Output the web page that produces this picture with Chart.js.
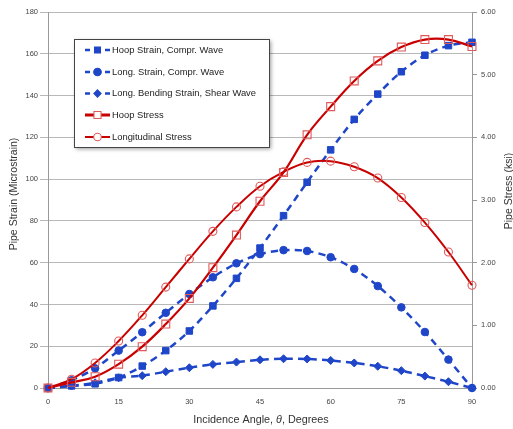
<!DOCTYPE html>
<html><head><meta charset="utf-8">
<script src="https://cdn.jsdelivr.net/npm/chart.js@4.4.1/dist/chart.umd.min.js"></script>
<style>html,body{margin:0;padding:0;background:#fff}#wrap{width:513px;height:429px;position:relative}</style>
</head><body><div id="wrap"><canvas id="c" width="513" height="429"></canvas></div>
<script>
const angles      = [0, 5, 10, 15, 20, 25, 30, 35, 40, 45, 50, 55, 60, 65, 70, 75, 80, 85, 90];
const hoopStrain  = [0, 1, 2, 5, 10.5, 17.9, 27.3, 39.3, 52.5, 67, 82.5, 98.5, 114, 128.6, 140.7, 151.4, 159.3, 163.9, 165.5];
const longStrain  = [0, 3.7, 9.4, 17.9, 26.7, 36, 45, 53, 59.7, 64.1, 66, 65.6, 62.6, 57, 48.8, 38.6, 26.8, 13.6, 0];
const bendStrain  = [0, 1, 2.5, 4.9, 5.9, 7.8, 9.7, 11.3, 12.4, 13.5, 14, 13.9, 13.2, 12, 10.4, 8.3, 5.7, 3, 0];
const hoopStress  = [0, 0.09, 0.18, 0.38, 0.66, 1.02, 1.43, 1.92, 2.44, 2.98, 3.44, 4.04, 4.49, 4.90, 5.22, 5.44, 5.56, 5.56, 5.45];
const longStress  = [0, 0.14, 0.40, 0.75, 1.16, 1.61, 2.06, 2.50, 2.89, 3.22, 3.45, 3.60, 3.62, 3.53, 3.35, 3.04, 2.64, 2.17, 1.64];
const seriesNames = ['Hoop Strain, Compr. Wave', 'Long. Strain, Compr. Wave', 'Long. Bending Strain, Shear Wave', 'Hoop Stress', 'Longitudinal Stress'];
const xTicks = [0, 15, 30, 45, 60, 75, 90];

const BLUE = '#1f46c8';
const RED = '#c80000';
const RED_MK = '#e05a5a';
const FONT = '"Liberation Sans", Arial, sans-serif';

function pts(vals){ return angles.map((a,i)=>({x:a, y:vals[i]})); }

function blueDs(label, vals, style, r){
  return {label, data: pts(vals), yAxisID:'y', borderColor: BLUE, backgroundColor: BLUE,
    borderWidth: 2.5, borderDash:[7,5], pointStyle: style, pointRadius: r, pointHoverRadius: r,
    pointBackgroundColor: BLUE, pointBorderColor: BLUE, pointBorderWidth: 1,
    tension: 0.3, clip: false, order: 2};
}
function redDs(label, vals, style, r, w){
  return {label, data: pts(vals), yAxisID:'y1', borderColor: RED, backgroundColor: 'rgba(0,0,0,0)',
    borderWidth: w, pointStyle: style, pointRadius: r, pointHoverRadius: r,
    pointBackgroundColor: 'rgba(0,0,0,0)', pointBorderColor: RED_MK, pointBorderWidth: 1.1,
    tension: 0.4, clip: false, order: 1};
}

const datasets = [
  blueDs(seriesNames[0], hoopStrain, 'rect', 4.6),
  blueDs(seriesNames[1], longStrain, 'circle', 3.8),
  blueDs(seriesNames[2], bendStrain, 'rectRot', 4),
  redDs(seriesNames[3], hoopStress, 'rect', 5.6, 2.2),
  redDs(seriesNames[4], longStress, 'circle', 4, 2)
];

function marker(ctx, style, x, y, r, fill, stroke){
  ctx.save();
  ctx.beginPath();
  if(style==='rect'){ const s=Math.SQRT1_2*r; ctx.rect(x-s,y-s,2*s,2*s); }
  else if(style==='circle'){ ctx.arc(x,y,r,0,Math.PI*2); }
  else if(style==='rectRot'){ ctx.moveTo(x,y-r); ctx.lineTo(x+r,y); ctx.lineTo(x,y+r); ctx.lineTo(x-r,y); ctx.closePath(); }
  if(fill){ ctx.fillStyle=fill; ctx.fill(); }
  if(stroke){ ctx.strokeStyle=stroke; ctx.lineWidth=1.1; ctx.stroke(); }
  ctx.restore();
}

const decor = {
  id:'decor',
  afterDraw(chart){
    const ctx = chart.ctx;
    ctx.save();
    ctx.fillStyle = '#333';
    ctx.font = '10.5px ' + FONT;
    ctx.textAlign = 'center'; ctx.textBaseline = 'middle';
    ctx.save(); ctx.translate(14, 194); ctx.rotate(-Math.PI/2); ctx.fillText('Pipe Strain (Microstrain)', 0, 0); ctx.restore();
    ctx.save(); ctx.translate(509, 191); ctx.rotate(-Math.PI/2); ctx.fillText('Pipe Stress (ksi)', 0, 0); ctx.restore();
    const parts = [['Incidence Angle, ', '10.8px '+FONT], ['\u03b8', 'italic 10.8px '+FONT], [', Degrees', '10.8px '+FONT]];
    let total = 0; const widths = [];
    parts.forEach(p=>{ ctx.font=p[1]; const w=ctx.measureText(p[0]).width; widths.push(w); total+=w; });
    let xx = 261 - total/2;
    ctx.textAlign = 'left';
    parts.forEach((p,i)=>{ ctx.font=p[1]; ctx.fillText(p[0], xx, 420); xx+=widths[i]; });
    ctx.restore();

    const bx=74, by=39, bw=195, bh=108;
    ctx.save();
    ctx.shadowColor='rgba(0,0,0,0.4)'; ctx.shadowBlur=4; ctx.shadowOffsetX=2; ctx.shadowOffsetY=2;
    ctx.fillStyle='#fff'; ctx.fillRect(bx,by,bw,bh);
    ctx.restore();
    ctx.save();
    ctx.strokeStyle='#444'; ctx.lineWidth=1; ctx.strokeRect(bx+0.5,by+0.5,bw,bh);
    const rows=[50,72,93.5,115,137];
    const styles=['rect','circle','rectRot','rect','circle'];
    const radii=[4.2,3.8,3.6,5,3.8];
    ctx.font='9.4px '+FONT; ctx.fillStyle='#222'; ctx.textBaseline='middle'; ctx.textAlign='left';
    rows.forEach((y,i)=>{
      ctx.save();
      if(i<3){
        ctx.strokeStyle=BLUE; ctx.lineWidth=2.5;
        ctx.beginPath(); ctx.moveTo(85,y); ctx.lineTo(90,y); ctx.moveTo(105,y); ctx.lineTo(110,y); ctx.stroke();
        marker(ctx, styles[i], 97.5, y, radii[i], BLUE, BLUE);
      } else {
        ctx.strokeStyle=RED; ctx.lineWidth= i===3 ? 3 : 2;
        ctx.beginPath(); ctx.moveTo(85,y); ctx.lineTo(110,y); ctx.stroke();
        marker(ctx, styles[i], 97.5, y, radii[i], '#fff', RED_MK);
      }
      ctx.restore();
      ctx.fillText(chart.data.datasets[i].label, 112, y);
    });
    ctx.restore();
  }
};

new Chart(document.getElementById('c'), {
  type:'line',
  data:{datasets},
  options:{
    responsive:false, animation:false, devicePixelRatio:1,
    layout:{padding:{top:12,left:0,right:0,bottom:0}},
    plugins:{legend:{display:false}, tooltip:{enabled:false}},
    scales:{
      x:{type:'linear', min:0, max:90,
        afterBuildTicks(s){ s.ticks = xTicks.map(v=>({value:v})); },
        afterFit(s){ s.height = 41; },
        grid:{display:false, drawTicks:false},
        border:{display:true, color:'#999', width:1},
        ticks:{font:{size:7.5, family:FONT}, color:'#444', padding:9, maxRotation:0, autoSkip:false}},
      y:{type:'linear', position:'left', min:0, max:180,
        ticks:{stepSize:20, font:{size:7.5, family:FONT}, color:'#444', padding:2},
        afterFit(s){ s.width = 48; },
        grid:{color:'#b8b8b8', lineWidth:1, tickLength:8, drawTicks:true},
        border:{display:true, color:'#999', width:1}},
      y1:{type:'linear', position:'right', min:0, max:6,
        ticks:{stepSize:1, font:{size:7.5, family:FONT}, color:'#444', padding:4, callback:v=>Number(v).toFixed(2)},
        afterFit(s){ s.width = 41; },
        grid:{drawOnChartArea:false, tickLength:5, drawTicks:true, color:'#999'},
        border:{display:true, color:'#999', width:1}}
    }
  },
  plugins:[decor]
});
</script></body></html>
